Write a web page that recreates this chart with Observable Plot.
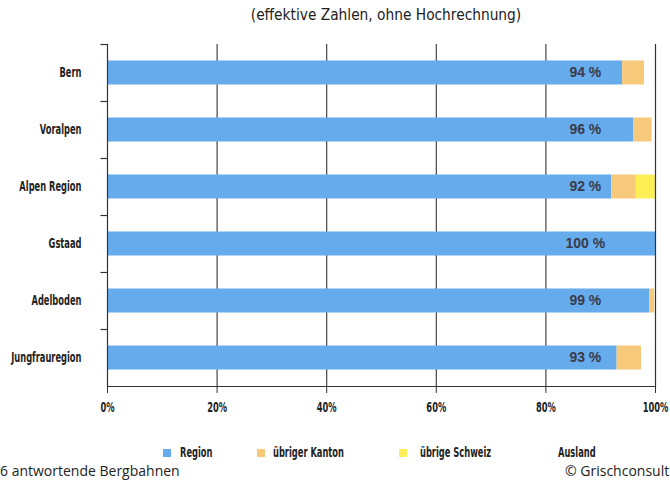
<!DOCTYPE html>
<html>
<head>
<meta charset="utf-8">
<script src="https://cdn.jsdelivr.net/npm/d3@7"></script>
<script src="https://cdn.jsdelivr.net/npm/@observablehq/plot@0.6"></script>
<style>
  html, body { margin: 0; padding: 0; background: #fff; width: 670px; height: 483px; overflow: hidden; }
  #wrap { position: relative; width: 670px; height: 483px; overflow: hidden; }
  #title { position: absolute; left: 0; top: 6px; width: 772px; text-align: center; font-family: "DejaVu Sans", sans-serif; font-stretch: condensed; font-size: 15.3px; color: #222; }
  #chart { position: absolute; left: 0; top: 30px; }
  #chart svg { overflow: visible; }
  #chart text { font-stretch: condensed; }
  .leg { position: absolute; font-family: "DejaVu Sans", sans-serif; font-stretch: condensed; font-weight: bold; font-size: 14px; color: #222; top: 444px; line-height: 16px; transform: scaleX(0.66); transform-origin: 0 50%; white-space: nowrap; }
  .sw { position: absolute; width: 8px; height: 8px; top: 449px; }
  .cap { position: absolute; font-family: "Open Sans", "DejaVu Sans", sans-serif; font-size: 14px; color: #222; top: 462px; line-height: 18px; white-space: nowrap; }
</style>
</head>
<body>
<div id="wrap">
  <div id="title">(effektive Zahlen, ohne Hochrechnung)</div>
  <div id="chart"></div>
  <div id="legend"></div>
  <div class="cap" style="left:0px;">6 antwortende Bergbahnen</div>
  <div class="cap" style="left:565px;">© Grischconsult</div>
</div>
<script>
const categories = ["Bern", "Voralpen", "Alpen Region", "Gstaad", "Adelboden", "Jungfrauregion"];
const seriesNames = ["Region", "übriger Kanton", "übrige Schweiz", "Ausland"];
const seriesColors = ["#66aced", "#f7c97a", "#fdee55", "#ffffff"];
const region  = [94, 96, 92, 100, 99, 93];
const kanton  = [4, 3.4, 4.5, 0, 0.9, 4.5];
const schweiz = [0, 0, 3.5, 0, 0, 0];
const ausland = [2, 0.6, 0, 0, 0.1, 2.5];
const xTicks = [0, 20, 40, 60, 80, 100];
const gridTicks = [20, 40, 60, 80];

const seriesValues = [region, kanton, schweiz, ausland];
const rows = [];
categories.forEach((c, i) => {
  seriesNames.forEach((s, j) => rows.push({cat: c, series: s, value: seriesValues[j][i]}));
});
const labels = categories.map((c, i) => ({cat: c, text: region[i] + " %"}));

const chart = Plot.plot({
  width: 670,
  height: 390,
  marginTop: 14,
  marginBottom: 34,
  marginLeft: 107,
  marginRight: 15,
  style: {fontFamily: "'DejaVu Sans',sans-serif", fontSize: "14px", color: "#222", background: "#fff", overflow: "visible"},
  x: {domain: [0, 100], ticks: xTicks, tickFormat: d => d + "%", label: null},
  y: {domain: categories, padding: 0, label: null},
  color: {domain: seriesNames, range: seriesColors},
  marks: [
    Plot.ruleX(gridTicks, {stroke: "#333", strokeWidth: 1.1}),
    Plot.barX(rows, Plot.stackX({x: "value", y: "cat", fill: "series", insetTop: 16.5, insetBottom: 16.5})),
    Plot.ruleX([0, 100], {stroke: "#333", strokeWidth: 1.2}),
    Plot.frame({anchor: "bottom", stroke: "#333", strokeWidth: 1.2}),
    Plot.ruleY(categories, {y: d => d, x1: -1.2, x2: 0, dy: -28.5, stroke: "#333", strokeWidth: 1.2}),
    Plot.text(labels, {x: 87.2, y: "cat", text: "text", fill: "#3a3a48", fontSize: 14, fontWeight: "bold", fontFamily: "'Liberation Sans', Arial, sans-serif"}),
    Plot.axisX({ticks: xTicks, tickFormat: d => d + "%", tickSize: 7, tickPadding: 9, stroke: "#333", fontWeight: "bold", fontSize: 14, fill: "#222", label: null}),
    Plot.axisY({tickSize: 0, tickPadding: 26, fontWeight: "bold", fontSize: 14, fill: "#222", label: null})
  ]
});
document.getElementById("chart").appendChild(chart);

// narrow the tick labels horizontally to mimic the condensed typeface of the original
chart.querySelectorAll('g[aria-label="y-axis tick label"] text, g[aria-label="x-axis tick label"] text').forEach(t => {
  const tr = t.getAttribute("transform") || "";
  const xa = t.getAttribute("x");
  const xn = xa !== null && !isNaN(+xa) ? +xa : 0;
  if (xa !== null && !isNaN(+xa)) t.removeAttribute("x");
  t.setAttribute("transform", `${tr} translate(${xn},0) scale(0.66,1)`);
});

const legendPos = [
  {sw: 163, tx: 180},
  {sw: 257, tx: 273},
  {sw: 399, tx: 420},
  {sw: null, tx: 558}
];
const leg = document.getElementById("legend");
seriesNames.forEach((s, i) => {
  const p = legendPos[i];
  if (p.sw !== null) {
    const sq = document.createElement("div");
    sq.className = "sw";
    sq.style.left = p.sw + "px";
    sq.style.background = seriesColors[i];
    leg.appendChild(sq);
  }
  const t = document.createElement("div");
  t.className = "leg";
  t.style.left = p.tx + "px";
  t.textContent = s;
  leg.appendChild(t);
});
</script>
</body>
</html>
